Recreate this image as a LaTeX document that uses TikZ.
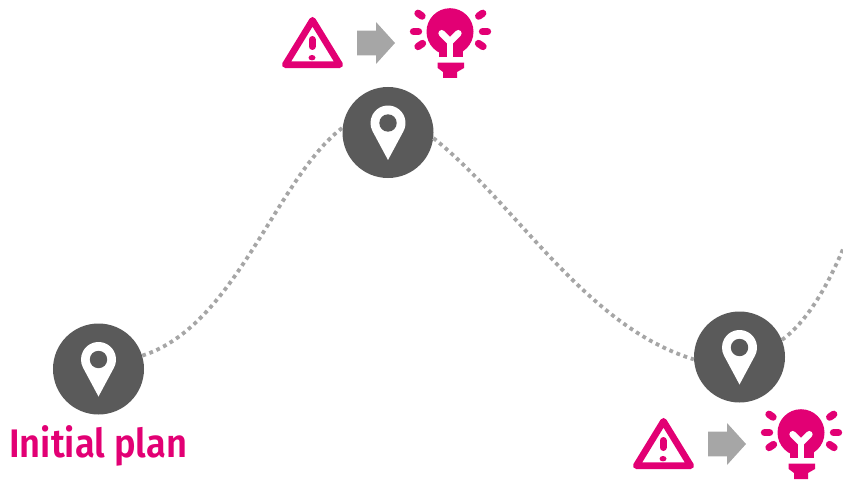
\documentclass[tikz,border=0pt]{standalone}
\usepackage{fontspec}
\setmainfont{Fira Sans SemiBold}
\usepackage{tikz}
\definecolor{pinkmark}{HTML}{E20074}
\definecolor{darkpin}{HTML}{5A5A5A}
\definecolor{softgray}{HTML}{A6A6A6}

\begin{document}
\begin{tikzpicture}[
    x=0.03cm, y=-0.03cm,
    waypoint/.style={circle, fill=darkpin, inner sep=0pt, minimum size=2.73cm},
    planlabel/.style={color=pinkmark, font=\fontsize{34}{34}\selectfont, inner sep=0pt, anchor=base west, xscale=0.91, transform shape},
    dotline/.style={softgray, line width=0.114cm, dash pattern=on 0.114cm off 0.114cm},
    ray/.style={pinkmark, line width=0.22cm, line cap=round},
    pinmark/.pic={
        \fill[white] (0,27.5) -- (15.42,-1.23) arc[start angle=28.2, end angle=-208.2, radius=17.5] -- cycle;
        \fill[darkpin] (0,-9.5) circle[radius=8.7];
    },
    fixmark/.pic={
        % warning triangle
        \draw[pinkmark, line width=0.2cm, line join=round] (0.5,-22.7) -- (27.7,21.7) -- (-26.7,21.7) -- cycle;
        \draw[pinkmark, line width=0.21cm, line cap=round] (0,-3.5) -- (0,3.5);
        \fill[pinkmark] (0,14.7) ellipse[x radius=3.5, y radius=2.7];
        % arrow
        \fill[softgray] (45,-12.3) -- (64,-12.3) -- (64,-21) -- (83,0) -- (64,21) -- (64,12.3) -- (45,12.3) -- cycle;
        % bulb
        \fill[pinkmark] (138,-11.3) circle[radius=23.5];
        \fill[pinkmark] (127,-2) rectangle (151.3,14.3);
        \fill[pinkmark] (125.7,19.7) -- (152,19.7) -- (152,25) -- (145,29) -- (145,35) -- (131,35) -- (131,29) -- (125.7,25) -- cycle;
        \draw[white, line width=0.2cm, line cap=round, line join=round] (129.7,-9.7) -- (138,-1.3) -- (146.3,-9.7);
        \draw[white, line width=0.2cm] (138,-1.3) -- (138,15);
        \draw[ray] (101.5,-11.3) -- (106.5,-11.3);
        \draw[ray] (170.5,-11.3) -- (175.5,-11.3);
        \draw[ray] (106,-29.7) -- (110,-26.9);
        \draw[ray] (166.7,-26.9) -- (170.7,-29.7);
        \draw[ray] (106,3.5) -- (110.5,0.5);
        \draw[ray] (166.5,0.5) -- (171,3.5);
    }
]
    \useasboundingbox (0,0) rectangle (843,481);

    % Nodes
    \node[waypoint] (start) at (98.5,369) {};
    \node[waypoint] (peak) at (388,132.5) {};
    \node[waypoint] (dip) at (739.5,357) {};
    \coordinate (exit) at (843.5,248);

    % Connectors
    \draw[dotline] (start.17) .. controls (236,326) and (276,178) .. (peak.174);
    \draw[dotline] (peak.-7) .. controls (518,206) and (585,326) .. (dip.183);
    \draw[dotline] (dip.22) .. controls (807,322) and (828,285) .. (exit);

    % Pins
    \pic at (start) {pinmark};
    \pic at (peak) {pinmark};
    \pic at (dip) {pinmark};

    % Fixes
    \pic at (312,43) {fixmark};
    \pic at (663,444) {fixmark};

    \node[planlabel] (plan) at (9,457) {Initial plan};
\end{tikzpicture}
\end{document}
